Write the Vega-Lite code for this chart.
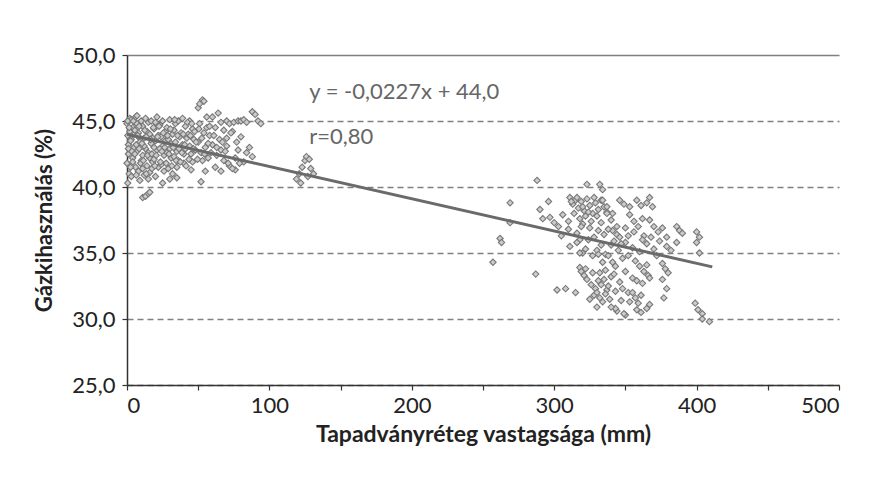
{
  "$schema": "https://vega.github.io/schema/vega-lite/v6.json",
  "width": 712,
  "height": 330,
  "autosize": {"type": "none"},
  "padding": {"left": 127, "top": 55, "right": 31, "bottom": 106},
  "background": "white",
  "config": {
    "view": {"stroke": null},
    "font": "Lato",
    "axis": {"labelFont": "Lato", "titleFont": "Lato"}
  },
  "datasets": {
    "pts": [
      {"x":0,"y":44.8},{"x":0.5,"y":43.9},{"x":1,"y":43.2},{"x":1,"y":42.5},{"x":0,"y":41.8},{"x":1.5,"y":41.0},{"x":0.5,"y":40.3},{"x":2,"y":44.2},{"x":2,"y":45.2},{"x":1,"y":42.9},
      {"x":3,"y":45.1},{"x":4,"y":44.5},{"x":3,"y":43.6},{"x":5,"y":43.0},{"x":4,"y":42.2},{"x":6,"y":41.5},{"x":3,"y":40.8},{"x":5,"y":44.0},{"x":6,"y":45.3},{"x":4,"y":41.9},
      {"x":7,"y":44.8},{"x":8,"y":44.1},{"x":9,"y":43.4},{"x":7,"y":42.7},{"x":10,"y":42.0},{"x":8,"y":41.2},{"x":9,"y":40.5},{"x":10,"y":45.0},{"x":8,"y":43.8},{"x":7,"y":45.4},
      {"x":11,"y":44.6},{"x":12,"y":43.7},{"x":13,"y":42.9},{"x":11,"y":42.4},{"x":14,"y":41.6},{"x":12,"y":40.9},{"x":13,"y":45.2},{"x":14,"y":44.2},{"x":12,"y":43.1},{"x":11,"y":41.4},
      {"x":15,"y":44.9},{"x":16,"y":44.0},{"x":17,"y":43.3},{"x":15,"y":42.6},{"x":18,"y":41.9},{"x":16,"y":41.1},{"x":17,"y":45.0},{"x":18,"y":43.7},{"x":15,"y":40.6},{"x":16,"y":42.2},
      {"x":19,"y":44.4},{"x":20,"y":43.5},{"x":21,"y":42.8},{"x":19,"y":42.1},{"x":22,"y":41.5},{"x":20,"y":44.9},{"x":21,"y":45.3},{"x":22,"y":43.9},{"x":20,"y":40.8},{"x":19,"y":43.0},
      {"x":23,"y":44.7},{"x":24,"y":43.8},{"x":25,"y":43.1},{"x":26,"y":42.4},{"x":24,"y":41.7},{"x":27,"y":44.2},{"x":25,"y":45.0},{"x":26,"y":41.2},{"x":23,"y":42.9},{"x":27,"y":43.5},
      {"x":28,"y":44.5},{"x":29,"y":43.6},{"x":30,"y":42.9},{"x":31,"y":42.2},{"x":29,"y":41.4},{"x":32,"y":44.0},{"x":30,"y":45.1},{"x":31,"y":43.3},{"x":28,"y":42.6},{"x":32,"y":41.0},
      {"x":33,"y":44.3},{"x":34,"y":43.4},{"x":35,"y":42.7},{"x":36,"y":42.0},{"x":34,"y":44.8},{"x":37,"y":43.8},{"x":35,"y":41.5},{"x":36,"y":45.0},{"x":33,"y":42.3},
      {"x":38,"y":44.1},{"x":39,"y":43.2},{"x":40,"y":42.5},{"x":41,"y":44.6},{"x":42,"y":43.7},{"x":40,"y":41.8},{"x":39,"y":45.2},{"x":41,"y":42.9},
      {"x":43,"y":44.0},{"x":44,"y":43.1},{"x":45,"y":42.5},{"x":46,"y":44.4},{"x":47,"y":43.6},{"x":45,"y":41.3},{"x":48,"y":42.8},{"x":44,"y":45.0},{"x":46,"y":41.9},
      {"x":50,"y":43.4},{"x":52,"y":42.6},{"x":54,"y":44.1},{"x":55,"y":43.0},{"x":51,"y":44.8},{"x":53,"y":42.0},{"x":56,"y":44.5},{"x":50,"y":46.0},{"x":51,"y":46.3},{"x":53,"y":46.6},{"x":54,"y":46.5},{"x":56,"y":45.3},
      {"x":11,"y":39.2},{"x":13,"y":39.3},{"x":15,"y":39.5},{"x":16,"y":39.6},{"x":25,"y":40.3},{"x":30,"y":40.6},{"x":35,"y":40.7},{"x":52,"y":40.4},
      {"x":58,"y":43.9},{"x":60,"y":43.2},{"x":62,"y":44.5},{"x":63,"y":42.4},{"x":65,"y":43.6},{"x":66,"y":44.9},{"x":68,"y":42.0},{"x":70,"y":43.1},{"x":72,"y":41.6},{"x":74,"y":44.2},
      {"x":76,"y":41.3},{"x":78,"y":42.8},{"x":80,"y":43.8},{"x":82,"y":41.9},{"x":84,"y":42.6},{"x":86,"y":43.0},{"x":88,"y":42.3},{"x":62,"y":41.5},{"x":66,"y":41.2},{"x":60,"y":45.3},
      {"x":64,"y":45.6},{"x":58,"y":44.6},{"x":68,"y":44.3},{"x":70,"y":45.0},{"x":72,"y":44.8},{"x":75,"y":44.9},{"x":78,"y":45.0},{"x":80,"y":45.0},{"x":82,"y":45.1},{"x":84,"y":44.9},
      {"x":88,"y":45.7},{"x":90,"y":45.5},{"x":92,"y":45.0},{"x":94,"y":44.8},{"x":70,"y":43.7},{"x":73,"y":44.1},{"x":77,"y":43.4},{"x":71,"y":41.8},{"x":74,"y":41.4},{"x":66,"y":42.8},{"x":55,"y":41.2},{"x":57,"y":42.2},
      {"x":0.5,"y":45.0},{"x":1.5,"y":44.5},{"x":2.5,"y":43.5},{"x":3.5,"y":42.7},{"x":2.5,"y":41.5},{"x":4.5,"y":45.0},{"x":5.5,"y":44.3},{"x":6.5,"y":43.2},{"x":5.5,"y":42.5},{"x":6.5,"y":40.9},
      {"x":7.5,"y":43.9},{"x":8.5,"y":42.9},{"x":9.5,"y":41.8},{"x":8.5,"y":44.6},{"x":10.5,"y":43.3},{"x":11.5,"y":42.0},{"x":12.5,"y":44.3},{"x":13.5,"y":43.8},{"x":14.5,"y":42.4},{"x":13.5,"y":41.0},
      {"x":16.5,"y":43.6},{"x":17.5,"y":42.5},{"x":18.5,"y":44.5},{"x":17.5,"y":41.4},{"x":19.5,"y":41.6},{"x":20.5,"y":42.4},{"x":21.5,"y":43.8},{"x":22.5,"y":44.6},{"x":23.5,"y":41.9},{"x":24.5,"y":42.7},
      {"x":25.5,"y":44.1},{"x":26.5,"y":43.0},{"x":27.5,"y":41.8},{"x":28.5,"y":43.9},{"x":29.5,"y":42.5},{"x":30.5,"y":44.4},{"x":31.5,"y":41.6},{"x":32.5,"y":43.0},{"x":33.5,"y":45.1},{"x":34.5,"y":42.0},
      {"x":35.5,"y":43.9},{"x":36.5,"y":42.9},{"x":37.5,"y":41.9},{"x":38.5,"y":42.6},{"x":39.5,"y":44.0},{"x":40.5,"y":43.2},{"x":41.5,"y":41.6},{"x":42.5,"y":44.9},{"x":43.5,"y":42.1},{"x":44.5,"y":43.9},
      {"x":45.5,"y":44.8},{"x":46.5,"y":42.9},{"x":47.5,"y":44.2},{"x":48.5,"y":43.4},{"x":49.5,"y":42.1},{"x":50.5,"y":44.4},{"x":52.5,"y":43.7},{"x":54.5,"y":42.5},{"x":57,"y":43.3},{"x":59,"y":42.6},
      {"x":61,"y":43.9},{"x":63,"y":43.0},{"x":67,"y":43.4},{"x":69,"y":42.7},{"x":76,"y":42.2},{"x":79,"y":41.8},
      {"x":119,"y":40.6},{"x":121,"y":41.0},{"x":123,"y":41.5},{"x":125,"y":42.0},{"x":126,"y":42.3},{"x":128,"y":42.1},{"x":129,"y":41.4},{"x":131,"y":41.0},{"x":127,"y":40.8},{"x":122,"y":40.3},
      {"x":257,"y":34.3},{"x":262,"y":36.1},{"x":263,"y":35.8},{"x":269,"y":38.8},{"x":269,"y":37.3},{"x":287,"y":33.4},{"x":288,"y":40.5},{"x":290,"y":38.3},{"x":296,"y":38.9},{"x":297,"y":37.7},
      {"x":300,"y":37.3},{"x":303,"y":37.0},{"x":306,"y":37.9},{"x":310,"y":37.4},{"x":302,"y":32.2},{"x":308,"y":32.3},{"x":315,"y":32.0},
      {"x":311,"y":39.2},{"x":313,"y":38.7},{"x":315,"y":39.0},{"x":317,"y":38.4},{"x":319,"y":38.9},{"x":321,"y":38.2},{"x":323,"y":39.1},{"x":325,"y":38.6},{"x":327,"y":38.0},{"x":329,"y":38.8},
      {"x":331,"y":38.3},{"x":333,"y":39.0},{"x":335,"y":38.5},{"x":337,"y":38.1},{"x":314,"y":38.0},{"x":318,"y":37.6},{"x":322,"y":37.8},
      {"x":323,"y":40.2},{"x":332,"y":40.2},{"x":334,"y":39.8},
      {"x":311,"y":35.5},{"x":320,"y":35.0},{"x":330,"y":35.2},{"x":318,"y":35.0},{"x":331,"y":34.9},
      {"x":316,"y":36.5},{"x":318,"y":36.0},{"x":320,"y":37.2},{"x":325,"y":36.9},{"x":331,"y":36.7},{"x":328,"y":36.2},{"x":335,"y":36.4},
      {"x":318,"y":33.9},{"x":319,"y":33.6},{"x":321,"y":33.3},{"x":322,"y":33.8},
      {"x":323,"y":33.0},{"x":326,"y":32.6},{"x":329,"y":32.3},{"x":331,"y":32.9},{"x":333,"y":32.6},{"x":337,"y":32.2},{"x":334,"y":31.3},{"x":328,"y":31.8},{"x":330,"y":32.0},{"x":332,"y":31.6},
      {"x":334,"y":34.3},{"x":341,"y":34.3},{"x":332,"y":33.5},{"x":335,"y":33.0},{"x":338,"y":32.5},{"x":340,"y":33.2},{"x":343,"y":32.1},{"x":346,"y":32.8},{"x":336,"y":31.9},{"x":339,"y":31.5},
      {"x":348,"y":32.3},{"x":352,"y":32.0},{"x":355,"y":33.1},{"x":358,"y":32.9},{"x":362,"y":32.7},{"x":355,"y":32.0},{"x":357,"y":31.6},{"x":359,"y":31.2},{"x":361,"y":31.8},
      {"x":365,"y":34.1},{"x":366,"y":33.3},{"x":367,"y":33.1},{"x":367,"y":31.1},{"x":361,"y":30.5},{"x":344,"y":30.6},{"x":350,"y":30.3},
      {"x":343,"y":30.8},{"x":349,"y":30.4},{"x":365,"y":30.8},
      {"x":376,"y":34.2},{"x":378,"y":33.8},{"x":380,"y":33.5},{"x":376,"y":33.0},{"x":379,"y":32.3},{"x":377,"y":31.6},
      {"x":399,"y":31.2},{"x":401,"y":30.7},{"x":404,"y":30.4},{"x":404,"y":30.0},{"x":409,"y":29.8},{"x":402,"y":35.0},
      {"x":334,"y":39.0},{"x":337,"y":38.5},{"x":341,"y":38.0},{"x":346,"y":39.0},{"x":349,"y":38.7},{"x":353,"y":38.5},{"x":358,"y":39.0},{"x":361,"y":38.6},{"x":365,"y":38.8},{"x":367,"y":39.2},{"x":369,"y":38.5},
      {"x":337,"y":38.0},{"x":340,"y":37.5},{"x":344,"y":37.0},{"x":353,"y":37.9},{"x":356,"y":37.4},{"x":359,"y":37.0},{"x":362,"y":37.6},
      {"x":367,"y":37.5},{"x":370,"y":37.0},{"x":373,"y":36.6},{"x":376,"y":36.9},{"x":379,"y":36.2},{"x":386,"y":37.0},{"x":388,"y":36.7},{"x":390,"y":36.5},{"x":400,"y":36.6},{"x":402,"y":36.2},
      {"x":386,"y":35.8},{"x":400,"y":35.8},{"x":379,"y":35.5},
      {"x":341,"y":36.7},{"x":344,"y":36.4},{"x":346,"y":36.2},
      {"x":340,"y":35.6},{"x":345,"y":35.2},{"x":350,"y":35.8},{"x":355,"y":35.4},{"x":360,"y":35.1},{"x":365,"y":35.7},{"x":370,"y":35.3},{"x":372,"y":34.8},{"x":348,"y":34.6},{"x":357,"y":34.4},
      {"x":292,"y":37.6},{"x":305,"y":36.3},{"x":310,"y":36.8},{"x":324,"y":36.0},{"x":350,"y":36.9},{"x":363,"y":36.3},
      {"x":316,"y":35.8},{"x":322,"y":35.3},{"x":327,"y":34.8},{"x":333,"y":35.6},{"x":336,"y":34.9},
      {"x":312,"y":38.9},{"x":316,"y":39.2},{"x":320,"y":38.5},{"x":324,"y":38.1},{"x":328,"y":39.2},{"x":330,"y":37.8},{"x":319,"y":37.0},{"x":326,"y":37.4},{"x":333,"y":37.3},{"x":338,"y":36.8},
      {"x":342,"y":35.9},{"x":347,"y":35.7},{"x":352,"y":36.3},{"x":356,"y":36.6},{"x":362,"y":36.0},{"x":368,"y":36.2},{"x":374,"y":35.9},{"x":382,"y":35.2},{"x":338,"y":34.8},{"x":343,"y":34.0},
      {"x":352,"y":34.8},{"x":360,"y":34.0},{"x":363,"y":33.6},{"x":327,"y":33.5},{"x":336,"y":33.7},{"x":342,"y":33.4},{"x":350,"y":33.6},{"x":353,"y":31.3},{"x":347,"y":31.4},{"x":340,"y":30.9},
      {"x":358,"y":30.7},{"x":325,"y":31.5},{"x":330,"y":30.9}
    ],
    "fit": [{"x": 0, "y": 44.0}, {"x": 411, "y": 33.95}],
    "notes": [
      {"x": 128, "y": 47.2, "label": "y = -0,0227x + 44,0"},
      {"x": 128, "y": 43.8, "label": "r=0,80"}
    ]
  },
  "layer": [
    {
      "data": {"name": "pts"},
      "mark": {"type": "point", "shape": "diamond", "filled": true, "size": 40, "fill": "#cccccc", "stroke": "#787878", "strokeWidth": 1.1, "opacity": 1},
      "encoding": {
        "x": {
          "field": "x", "type": "quantitative",
          "scale": {"domain": [0, 500], "nice": false, "zero": false},
          "axis": {
            "title": "Tapadványréteg vastagsága (mm)",
            "values": [0, 50, 100, 150, 200, 250, 300, 350, 400, 450, 500],
            "labelExpr": "datum.value % 100 === 0 ? datum.value : ''",
            "grid": false,
            "domainColor": "#333", "domainWidth": 1.5,
            "tickColor": "#333", "tickSize": 5, "tickWidth": 1.2,
            "labelFontSize": 22, "labelColor": "#222", "labelPadding": 5,
            "titleFontSize": 23, "titleFontWeight": "bold", "titleColor": "#222", "titlePadding": 7
          }
        },
        "y": {
          "field": "y", "type": "quantitative",
          "scale": {"domain": [25, 50], "nice": false, "zero": false},
          "axis": {
            "title": "Gázkihasználás (%)",
            "values": [25, 30, 35, 40, 45, 50],
            "labelExpr": "replace(format(datum.value, '.1f'), '.', ',')",
            "grid": true, "gridColor": "#808080", "gridWidth": 1.3,
            "gridDash": {"condition": {"test": "datum.value === 50", "value": []}, "value": [6, 4]},
            "domainColor": "#333", "domainWidth": 1.5,
            "tickColor": "#333", "tickSize": 5, "tickWidth": 1.2,
            "labelFontSize": 22, "labelColor": "#222", "labelPadding": 7,
            "titleFontSize": 22, "titleFontWeight": "bold", "titleColor": "#222", "titlePadding": 15
          }
        }
      }
    },
    {
      "data": {"name": "fit"},
      "mark": {"type": "line", "color": "#6a6a6a", "strokeWidth": 3},
      "encoding": {
        "x": {"field": "x", "type": "quantitative"},
        "y": {"field": "y", "type": "quantitative"}
      }
    },
    {
      "data": {"name": "notes"},
      "mark": {"type": "text", "align": "left", "baseline": "middle", "fontSize": 22, "color": "#666", "font": "Lato"},
      "encoding": {
        "x": {"field": "x", "type": "quantitative"},
        "y": {"field": "y", "type": "quantitative"},
        "text": {"field": "label"}
      }
    }
  ]
}
